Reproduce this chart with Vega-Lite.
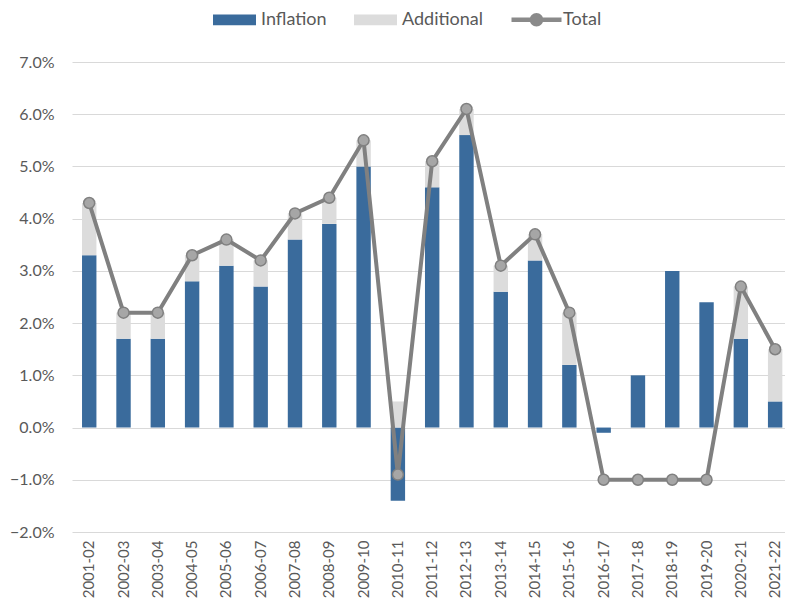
{
  "$schema": "https://vega.github.io/schema/vega-lite/v6.json",
  "autosize": "none",
  "width": 713,
  "height": 470,
  "padding": {"left": 72, "top": 62, "right": 0, "bottom": 81},
  "background": "white",
  "config": {
    "view": {"stroke": null},
    "font": "Lato",
    "axis": {"labelColor": "#595959", "labelFont": "Lato", "gridColor": "#d9d9d9", "domain": false, "ticks": false, "title": null}
  },
  "data": {
    "values": [
      {"year": "2001-02", "Inflation": 3.3, "Additional": 1.0, "Total": 4.3},
      {"year": "2002-03", "Inflation": 1.7, "Additional": 0.5, "Total": 2.2},
      {"year": "2003-04", "Inflation": 1.7, "Additional": 0.5, "Total": 2.2},
      {"year": "2004-05", "Inflation": 2.8, "Additional": 0.5, "Total": 3.3},
      {"year": "2005-06", "Inflation": 3.1, "Additional": 0.5, "Total": 3.6},
      {"year": "2006-07", "Inflation": 2.7, "Additional": 0.5, "Total": 3.2},
      {"year": "2007-08", "Inflation": 3.6, "Additional": 0.5, "Total": 4.1},
      {"year": "2008-09", "Inflation": 3.9, "Additional": 0.5, "Total": 4.4},
      {"year": "2009-10", "Inflation": 5.0, "Additional": 0.5, "Total": 5.5},
      {"year": "2010-11", "Inflation": -1.4, "Additional": 0.5, "Total": -0.9},
      {"year": "2011-12", "Inflation": 4.6, "Additional": 0.5, "Total": 5.1},
      {"year": "2012-13", "Inflation": 5.6, "Additional": 0.5, "Total": 6.1},
      {"year": "2013-14", "Inflation": 2.6, "Additional": 0.5, "Total": 3.1},
      {"year": "2014-15", "Inflation": 3.2, "Additional": 0.5, "Total": 3.7},
      {"year": "2015-16", "Inflation": 1.2, "Additional": 1.0, "Total": 2.2},
      {"year": "2016-17", "Inflation": -0.1, "Additional": 0, "Total": -1.0},
      {"year": "2017-18", "Inflation": 1.0, "Additional": 0, "Total": -1.0},
      {"year": "2018-19", "Inflation": 3.0, "Additional": 0, "Total": -1.0},
      {"year": "2019-20", "Inflation": 2.4, "Additional": 0, "Total": -1.0},
      {"year": "2020-21", "Inflation": 1.7, "Additional": 1.0, "Total": 2.7},
      {"year": "2021-22", "Inflation": 0.5, "Additional": 1.0, "Total": 1.5}
    ]
  },
  "encoding": {
    "x": {
      "field": "year", "type": "nominal", "sort": null,
      "scale": {"paddingInner": 0.58, "paddingOuter": 0.185, "align": 0.79},
      "axis": {"labelAngle": -90, "labelFontSize": 15, "labelPadding": 8, "grid": false, "labelAlign": "right", "labelBaseline": "middle"}
    }
  },
  "layer": [
    {
      "transform": [{"fold": ["Inflation", "Additional"]}],
      "mark": {"type": "bar"},
      "encoding": {
        "y": {
          "field": "value", "type": "quantitative", "stack": "zero",
          "scale": {"domain": [-2, 7], "nice": false},
          "axis": {"values": [-2, -1, 0, 1, 2, 3, 4, 5, 6, 7], "labelExpr": "format(datum.value, '.1f') + '%'", "labelFontSize": 16, "labelPadding": 18, "grid": true}
        },
        "color": {
          "field": "key", "type": "nominal",
          "scale": {"domain": ["Inflation", "Additional", "Total"], "range": ["#3a6b9c", "#dcdcdc", "#8a8a8a"]},
          "legend": {
            "title": null,
            "orient": "none",
            "direction": "horizontal",
            "legendX": 141,
            "legendY": -64,
            "labelFontSize": 18,
            "labelColor": "#595959",
            "labelFont": "Lato",
            "columnPadding": 27,
            "symbolOffset": 0,
            "labelOffset": 5,
            "symbolType": "M-1,-0.25H1V0.25H-1Z",
            "symbolSize": 1849,
            "symbolStrokeWidth": 0,
            "encode": {
              "symbols": {
                "update": {
                  "shape": {"signal": "datum.value === 'Total' ? 'M-1,-0.09H1V0.09H-1Z M0.27,0A0.27,0.27 0 1 1 -0.27,0A0.27,0.27 0 1 1 0.27,0Z' : 'M-1,-0.25H1V0.25H-1Z'"},
                  "size": {"signal": "datum.value === 'Total' ? 2500 : 1849"},
                  "fill": {"signal": "datum.value === 'Total' ? '#8a8a8a' : datum.value === 'Inflation' ? '#3a6b9c' : '#dcdcdc'"},
                  "strokeWidth": {"value": 0}
                }
              }
            }
          }
        },
        "order": {"field": "key", "sort": "descending"}
      }
    },
    {
      "mark": {"type": "line", "color": "#808080", "strokeWidth": 4, "point": {"filled": true, "fill": "#a6a6a6", "stroke": "#808080", "strokeWidth": 1.5, "size": 120}},
      "encoding": {
        "y": {"field": "Total", "type": "quantitative"}
      }
    }
  ]
}
